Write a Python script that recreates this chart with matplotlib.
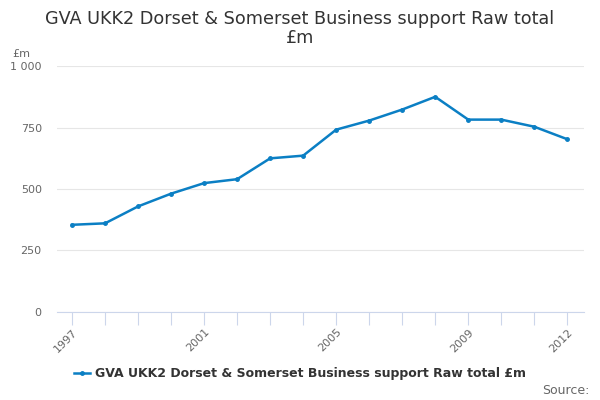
import matplotlib.pyplot as plt
from matplotlib.ticker import FuncFormatter

years = [1997, 1998, 1999, 2000, 2001, 2002, 2003, 2004,
         2005, 2006, 2007, 2008, 2009, 2010, 2011, 2012]
values = [354, 360, 429, 481, 524, 540, 625, 636,
          742, 779, 824, 876, 783, 783, 754, 703]
label_years = [1997, 2001, 2005, 2009, 2012]
series_name = "GVA UKK2 Dorset & Somerset Business support Raw total £m"

line_color = "#0b7fc4"
axis_color = "#ccd6eb"

fig = plt.figure(figsize=(6, 4), dpi=100)
ax = fig.add_axes([0.095, 0.221, 0.878, 0.613])

ax.plot(years, values, color=line_color, linewidth=1.8,
        marker="o", markersize=2.5, label=series_name)

ax.set_ylim(0, 1000)
ax.set_xlim(1996.545, 2012.5)
ax.set_yticks([0, 250, 500, 750, 1000])
ax.yaxis.set_major_formatter(FuncFormatter(lambda v, p: f"{int(v):,}".replace(",", " ")))
ax.grid(axis="y", color="#e6e6e6", linewidth=0.8)
ax.set_axisbelow(True)

ax.set_xticks(years)
ax.set_xticklabels([str(y) if y in label_years else "" for y in years],
                   rotation=45, ha="right", rotation_mode="anchor")
ax.tick_params(axis="x", colors=axis_color, length=9, width=0.8, labelcolor="#666666",
               labelsize=8, pad=2)
ax.tick_params(axis="y", length=0, labelcolor="#666666", labelsize=8, pad=11)

for side in ["left", "right", "top"]:
    ax.spines[side].set_visible(False)
ax.spines["bottom"].set_color(axis_color)

fig.text(0.02, 0.858, "£m", fontsize=8, color="#666666")
fig.suptitle("GVA UKK2 Dorset & Somerset Business support Raw total\n£m",
             x=0.5, y=0.975, fontsize=12.7, color="#333333", linespacing=1.05)

leg = fig.legend(loc="center", bbox_to_anchor=(0.5, 0.065), frameon=False,
                 prop={"weight": "bold", "size": 9}, handlelength=1.3, handletextpad=0.4)
for t in leg.get_texts():
    t.set_color("#333333")

fig.text(0.982, 0.015, "Source:", fontsize=9, color="#666666", ha="right")

fig.savefig("out.png", dpi=100)
